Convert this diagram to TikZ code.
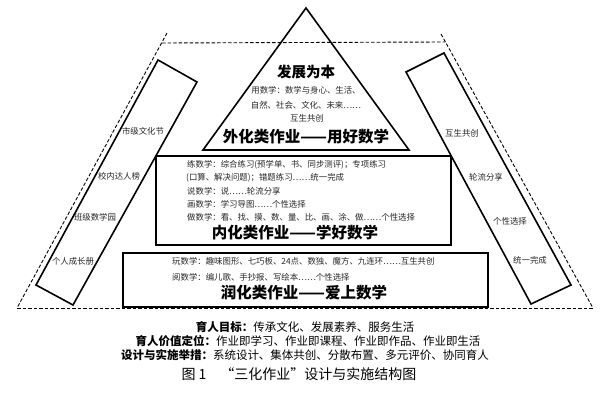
\documentclass[tikz,border=0pt]{standalone}
\usepackage{fontspec}
\setmainfont{Noto Sans CJK SC}
\usepackage{tikz}
\usetikzlibrary{positioning, calc}

\begin{document}
\begin{tikzpicture}[x=1pt, y=-1pt,
    frame/.style={draw, line width=1.6pt, line join=miter},
    outline/.style={draw, line width=0.9pt, dash pattern=on 3.5pt off 2pt},
    note/.style={inner sep=0pt, text=black!85, font=\fontsize{8.4}{10}\selectfont},
    heading/.style={inner sep=0pt, font=\fontsize{15.5}{17}\selectfont\bfseries},
    aim/.style={inner sep=0pt, font=\fontsize{11.5}{13}\selectfont}]
  \useasboundingbox (0,0) rectangle (600,406);

  % outer dashed frame
  \coordinate (dTL) at (162,43);
  \coordinate (dTR) at (445,42);
  \coordinate (dBL) at (17,308);
  \coordinate (dBR) at (593,308);
  \draw[outline] (dTL) -- (dTR);
  \draw[outline] (dBL) -- (dBR);
  \draw[outline] (167,33) -- (dBL);
  \draw[outline] (441,34) -- (dBR);

  % triangle
  \coordinate (apex) at (306,8);
  \coordinate (triL) at (203,150);
  \coordinate (triR) at (409,150);
  \draw[frame] (apex) -- (triR) -- (triL) -- cycle;
  \node[inner sep=0pt, font=\fontsize{14.5}{16}\selectfont\bfseries] (base) at (306,72) {发展为本};
  \node[note] (use1) at (306,90) {用数学：数学与身心、生活、};
  \node[note] (use2) at (306,105) {自然、社会、文化、未来……};
  \node[note] (use3) at (307,118) {互生共创};
  \node[heading] (outer) at (306,137) {外化类作业——用好数学};

  % middle box
  \draw[frame] (156,156) rectangle (451,245);
  \node[note, anchor=west] (lian1) at (187,165) {练数学：综合练习(预学单、书、同步测评)；专项练习};
  \node[note, anchor=west] (lian2) at (186,178) {(口算、解决问题)；错题练习……统一完成};
  \node[note, anchor=west] (shuo) at (187,191) {说数学：说……轮流分享};
  \node[note, anchor=west] (hua) at (187,204) {画数学：学习导图……个性选择};
  \node[note, anchor=west] (zuo) at (187,217) {做数学：看、找、摸、数、量、比、画、涂、做……个性选择};
  \node[heading] (inner) at (295,233) {内化类作业——学好数学};

  % lower box
  \draw[frame] (123,253) rectangle (488,307);
  \node[note, anchor=west] (wan) at (172,261) {玩数学：趣味图形、七巧板、24点、数独、魔方、九连环……互生共创};
  \node[note, anchor=west] (yue) at (172,277) {阅数学：编儿歌、手抄报、写绘本……个性选择};
  \node[heading] (run) at (304,293) {润化类作业——爱上数学};

  % left slanted box
  \draw[frame] (158,60) -- (197,82) -- (73,305) -- (36,285) -- cycle;
  \node[note] (city) at (143,131) {市级文化节};
  \node[note] (school) at (119,176) {校内达人榜};
  \node[note] (class) at (95,217) {班级数学园};
  \node[note] (self) at (73,261) {个人成长册};

  % right slanted box
  \draw[frame] (406,72) -- (444,53) -- (571,285) -- (531,304) -- cycle;
  \node[note] (co) at (462,133) {互生共创};
  \node[note] (share) at (486,177) {轮流分享};
  \node[note] (pick) at (510,221) {个性选择};
  \node[note] (same) at (530,260) {统一完成};

  % bottom lines
  \node[aim] (goal) at (305,327) {\textbf{育人目标：}传承文化、发展素养、服务生活};
  \node[aim] (value) at (308,341) {\textbf{育人价值定位：}作业即学习、作业即课程、作业即作品、作业即生活};
  \node[aim] (act) at (305,355) {\textbf{设计与实施举措：}系统设计、集体共创、分散布置、多元评价、协同育人};
  \node[inner sep=0pt, font=\fontsize{14}{16}\selectfont] (cap) at (299,374) {图 1\quad “三化作业”设计与实施结构图};
\end{tikzpicture}
\end{document}
